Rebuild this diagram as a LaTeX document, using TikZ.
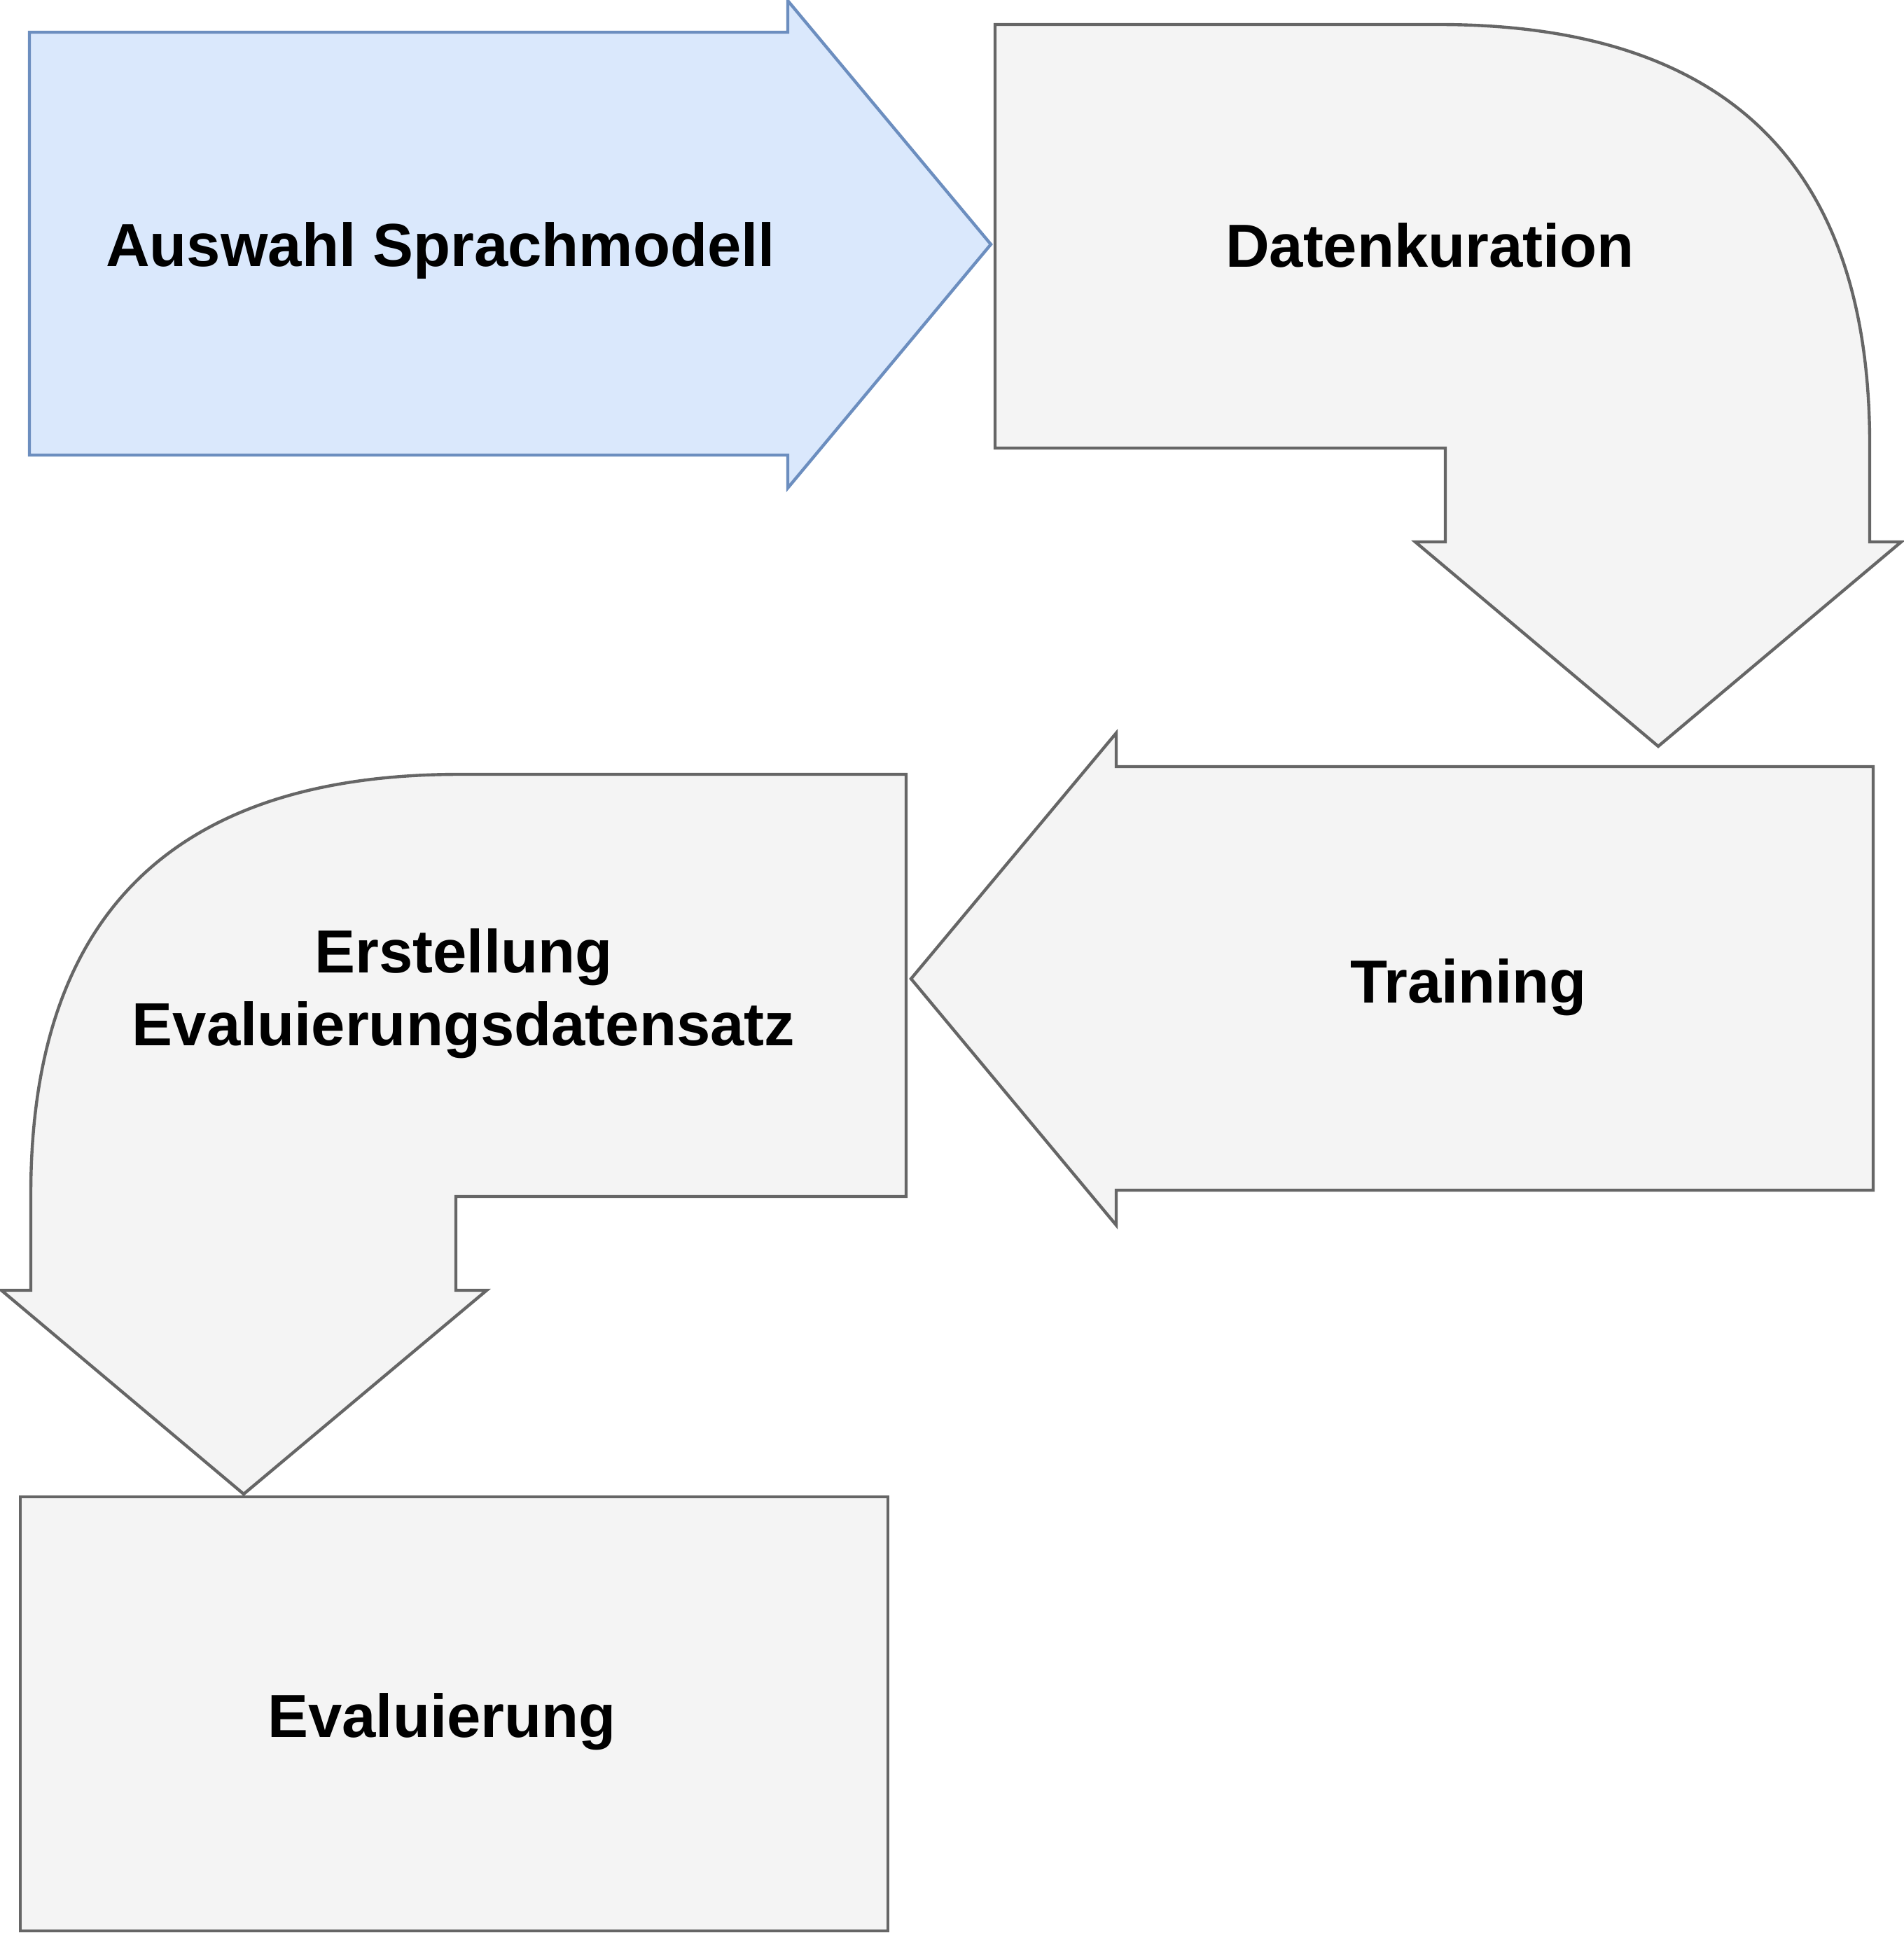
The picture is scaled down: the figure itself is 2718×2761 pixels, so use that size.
\documentclass[tikz,border=0pt]{standalone}
\usepackage{fontspec}
\setmainfont{Liberation Sans}
\definecolor{blueFill}{HTML}{DAE8FC}
\definecolor{blueLine}{HTML}{6C8EBF}
\definecolor{greyFill}{HTML}{F4F4F4}
\definecolor{greyLine}{HTML}{666666}
\tikzset{
	shape_base/.style = {
		line width=1.25pt,
		line join=miter
	},
	shape_blue/.style = {
		shape_base,
		draw=blueLine,
		fill=blueFill
	},
	shape_grey/.style = {
		shape_base,
		draw=greyLine,
		fill=greyFill
	},
	label_txt/.style = {
		align=center,
		inner sep=0pt,
		anchor=base,
		font=\fontsize{24.7}{29.3}\selectfont\bfseries
	},
}

\begin{document}
\begin{tikzpicture}[x=0.01cm, y=-0.01cm]
\useasboundingbox (0,0) rectangle (2718,2761);
% arrow shapes
\draw [shape_blue] (42,46) -- (1125,46) -- (1125,1) -- (1415,349) -- (1125,697) -- (1125,650) -- (42,650) -- cycle;
\draw [shape_grey] (1421,35) -- (2054,35) .. controls (2465,35) and (2670,234) .. (2670,635)
	-- (2670,774) -- (2715,774) -- (2368,1066) -- (2021,774) -- (2064,774) -- (2064,640) -- (1421,640) -- cycle;
\draw [shape_grey] (2675,1095) -- (1594,1095) -- (1594,1047) -- (1301,1398) -- (1594,1750) -- (1594,1700) -- (2675,1700) -- cycle;
\draw [shape_grey] (1294,1106) -- (657,1106) .. controls (248,1106) and (44,1306) .. (44,1706)
	-- (44,1843) -- (2,1843) -- (348,2134) -- (695,1843) -- (651,1843) -- (651,1709) -- (1294,1709) -- cycle;
\draw [shape_grey] (29,2138) rectangle (1268,2758);
% labels
\node [label_txt] (auswahl) at (629,380) {Auswahl Sprachmodell};
\node [label_txt] (kuration) at (2042,382) {Datenkuration};
\node [label_txt] (training) at (2097,1432) {Training};
\node [label_txt] (erstellung) at (662,1493) {Erstellung\\Evaluierungsdatensatz};
\node [label_txt] (evaluierung) at (631,2481) {Evaluierung};
\end{tikzpicture}
\end{document}
